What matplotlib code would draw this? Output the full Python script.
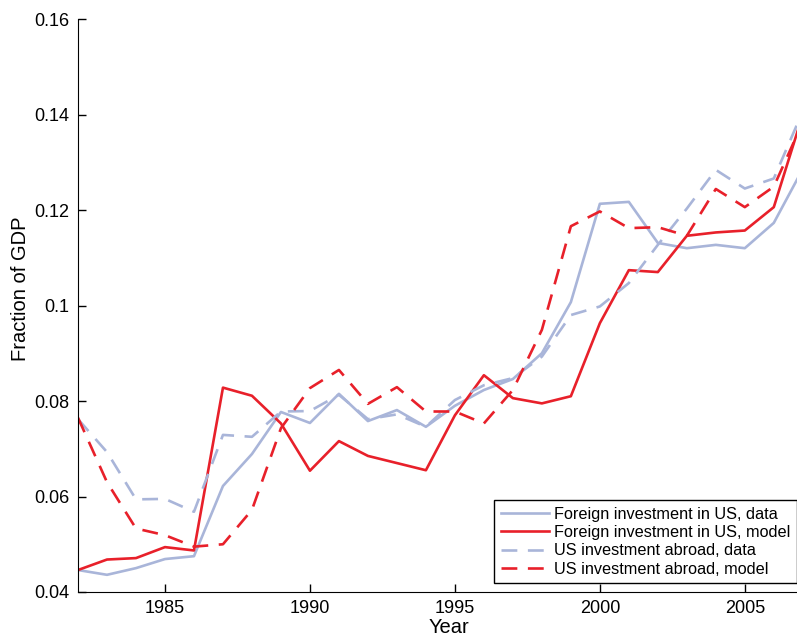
import numpy as np
import matplotlib.pyplot as plt

plt.rcParams['font.family'] = ['Liberation Sans', 'DejaVu Sans']

years = np.arange(1982, 2008)

# foreign investment in the US
fdi_in_data = [0.0446, 0.0436, 0.0450, 0.0469, 0.0475, 0.0622, 0.0689, 0.0777, 0.0754,
               0.0815, 0.0758, 0.0781, 0.0746, 0.0790, 0.0823, 0.0846, 0.0900, 0.1007,
               0.1213, 0.1217, 0.1131, 0.1120, 0.1127, 0.1120, 0.1173, 0.1286]
fdi_in_model = [0.0446, 0.0468, 0.0471, 0.0494, 0.0487, 0.0828, 0.0811, 0.0753, 0.0654,
                0.0716, 0.0685, 0.0670, 0.0655, 0.0770, 0.0854, 0.0806, 0.0795, 0.0810,
                0.0963, 0.1074, 0.1070, 0.1146, 0.1153, 0.1157, 0.1206, 0.1400]

# US investment abroad
fdi_out_data = [0.0762, 0.0693, 0.0594, 0.0595, 0.0568, 0.0729, 0.0725, 0.0778, 0.0779,
                0.0813, 0.0762, 0.0772, 0.0746, 0.0802, 0.0833, 0.0848, 0.0893, 0.0980,
                0.0998, 0.1047, 0.1127, 0.1203, 0.1284, 0.1245, 0.1266, 0.1407]
fdi_out_model = [0.0765, 0.0630, 0.0533, 0.0519, 0.0495, 0.0500, 0.0572, 0.0743, 0.0827,
                 0.0865, 0.0794, 0.0829, 0.0778, 0.0778, 0.0753, 0.0823, 0.0949, 0.1166,
                 0.1197, 0.1162, 0.1164, 0.1146, 0.1244, 0.1206, 0.1249, 0.1384]

blue = '#a9b5d9'
red = '#e8202a'

fig = plt.figure(figsize=(7.97, 6.39), dpi=100)
ax = fig.add_axes([78/797, 1-592/639, (797-78)/797, 573/639])

ax.plot(years, fdi_in_data, color=blue, lw=1.9, label='Foreign investment in US, data')
ax.plot(years, fdi_in_model, color=red, lw=1.9, label='Foreign investment in US, model')
ax.plot(years, fdi_out_data, color=blue, lw=1.9, dashes=(6, 4), label='US investment abroad, data')
ax.plot(years, fdi_out_model, color=red, lw=1.9, dashes=(6, 4), label='US investment abroad, model')

ax.set_xlim(1982, 2006.8)
ax.set_ylim(0.04, 0.16)
ax.set_xticks([1985, 1990, 1995, 2000, 2005])
ax.set_yticks([0.04, 0.06, 0.08, 0.1, 0.12, 0.14, 0.16])
ax.set_yticklabels(['0.04', '0.06', '0.08', '0.1', '0.12', '0.14', '0.16'])
ax.tick_params(direction='in', length=6, labelsize=13, width=1, pad=6)
ax.spines['top'].set_visible(False)
ax.spines['right'].set_visible(False)
ax.set_xlabel('Year', fontsize=14.5)
ax.set_ylabel('Fraction of GDP', fontsize=14.5)
ax.xaxis.set_label_coords(0.516, -0.045)
ax.yaxis.set_label_coords(-0.067, 0.529)

leg = ax.legend(loc='lower right', bbox_to_anchor=(1.0, 0.0157), fontsize=11.7,
                fancybox=False, framealpha=1, edgecolor='black', borderaxespad=0,
                handlelength=3.0, handletextpad=0.3, labelspacing=0.2, borderpad=0.4)
leg.get_frame().set_linewidth(1.0)

fig.savefig('out.png', dpi=100)
